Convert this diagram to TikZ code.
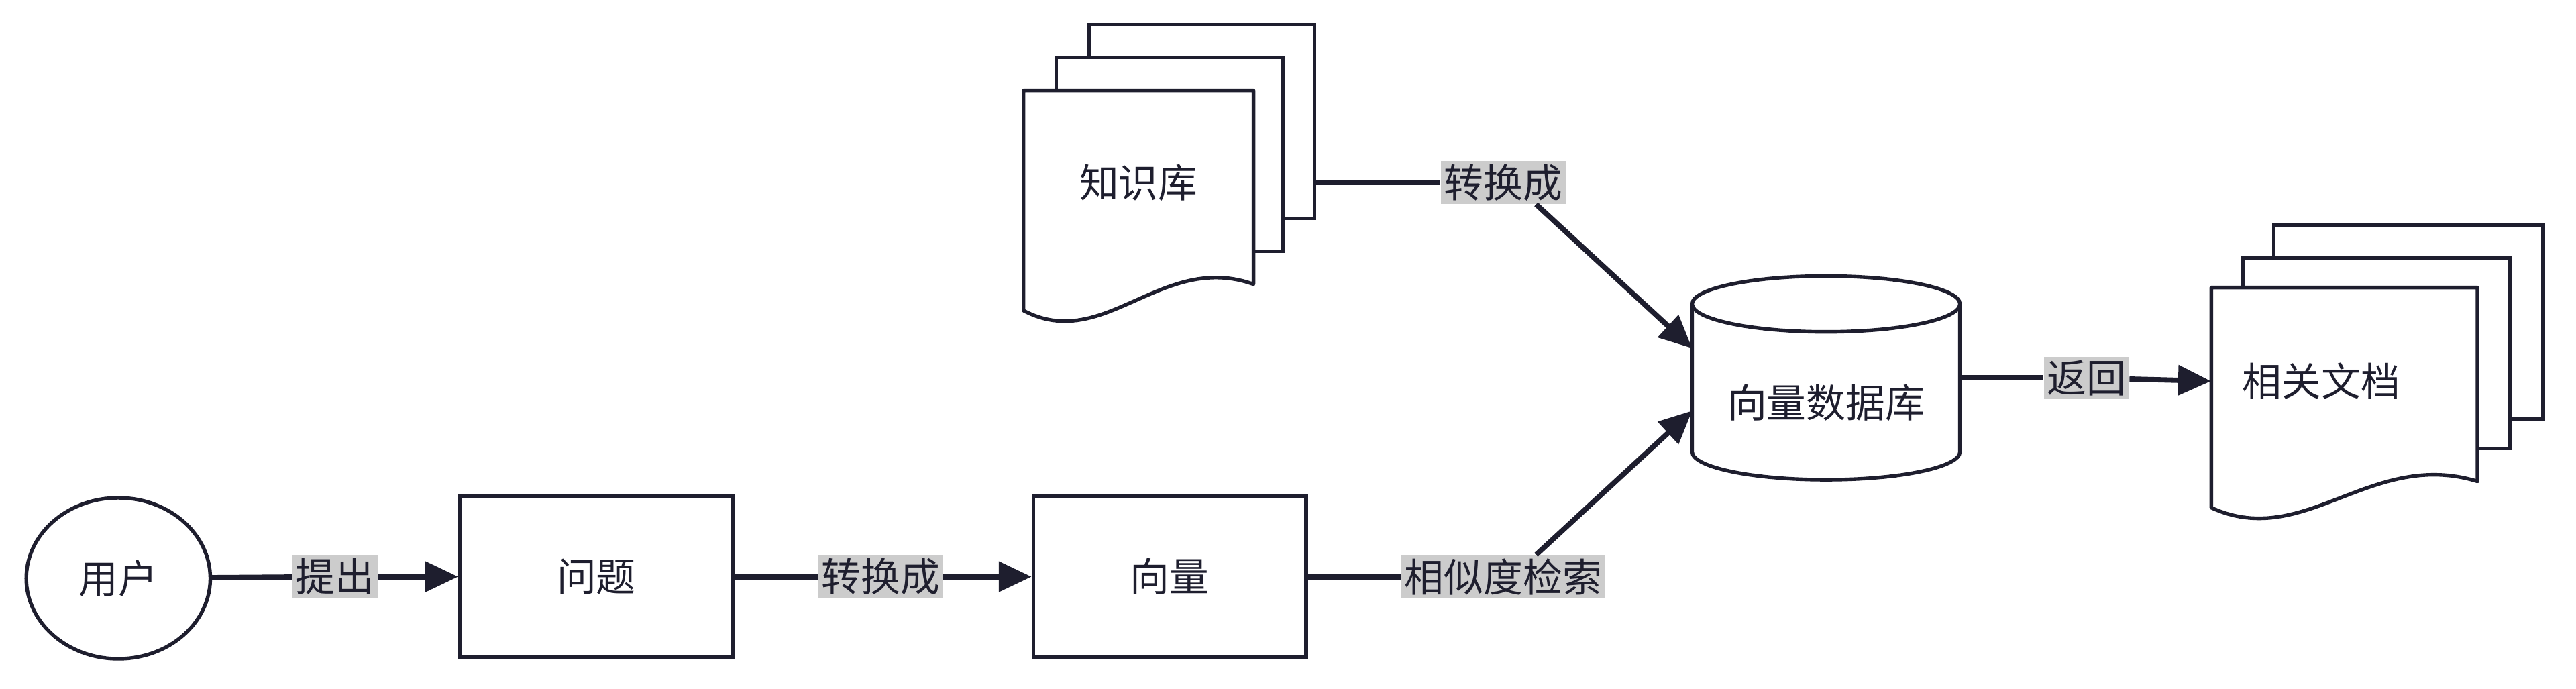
\documentclass[tikz,border=0pt]{standalone}
\usepackage{fontspec}
\newfontfamily\cjk{Noto Sans CJK SC}
\usetikzlibrary{arrows.meta,shapes.geometric}
\definecolor{ink}{HTML}{1E1E2E}
\newcommand{\mypage}[4]{% x1 y1 x2 y2 (y2 = lowest point of wave)
  \draw[line width=2.2pt,ink,fill=white,line join=round] (#1,#2) -- (#3,#2) -- (#3,#4-30)
    .. controls ({#3-0.4*(#3-#1)},#4-50) and ({#1+0.35*(#3-#1)},#4+12) .. (#1,#4-14) -- cycle;}
\newcommand{\backpage}[4]{\draw[line width=2.2pt,ink,fill=white] (#1,#2) rectangle (#3,#4);}
\begin{document}
\begin{tikzpicture}[x=1pt,y=-1pt,
  txt/.style={font=\cjk\fontsize{24}{28}\selectfont,text=ink},
  lab/.style={txt,fill=black!20,inner sep=2pt},
  box/.style={draw=ink,line width=2.2pt,fill=white,minimum width=166pt,minimum height=98pt,txt},
  ghost/.style={inner sep=0pt,draw=none},
  con/.style={line width=3.2pt,ink},
  arr/.style={con,-{Triangle[length=20pt,width=18pt]}}]
\useasboundingbox (0,0) rectangle (1568,419);
% user
\node[ellipse,draw=ink,line width=2.2pt,minimum width=112pt,minimum height=98pt,txt] (u) at (72,352) {用户};
\node[box] (q) at (363,351) {问题};
\node[box] (v) at (712,351) {向量};
% knowledge base
\backpage{663}{15}{800}{133}
\backpage{643}{35}{781}{153}
\mypage{623}{55}{763}{203}
\node[ghost,minimum width=177pt,minimum height=178pt] (kb) at (711.5,111) {};
\node[txt] at (693,111) {知识库};
% related docs
\backpage{1384}{137}{1548}{255}
\backpage{1365}{157}{1528}{273}
\mypage{1346}{175}{1508}{323}
\node[ghost,minimum width=202pt,minimum height=190pt] (rd) at (1447,232) {};
\node[txt] at (1413,232) {相关文档};
% database
\draw[line width=2.2pt,ink,fill=white] (1030,185) -- (1030,275) arc[start angle=180,end angle=0,x radius=81.5,y radius=17] -- (1193,185);
\draw[line width=2.2pt,ink,fill=white] (1111.5,185) ellipse[x radius=81.5,y radius=17];
\node[ghost,minimum width=163pt,minimum height=130pt] (db) at (1111.5,231) {};
\node[txt] at (1111.5,245) {向量数据库};
% labels
\node[lab] (l1) at (204,351) {提出};
\node[lab] (l2) at (536,351) {转换成};
\node[lab] (l3) at (915,351) {相似度检索};
\node[lab] (l4) at (915,111) {转换成};
\node[lab] (l5) at (1270,230) {返回};
\coordinate (a3) at ([xshift=20pt]l3.north);
\coordinate (a4) at ([xshift=20pt]l4.south);
\coordinate (t3) at (1030,250);
\coordinate (t4) at (1030,212);
% connectors
\draw[con] (u) -- (l1); \draw[arr] (l1) -- (q);
\draw[con] (q) -- (l2); \draw[arr] (l2) -- (v);
\draw[con] (v) -- (l3); \draw[arr] (a3) -- (t3);
\draw[con] (kb.east) -- (l4); \draw[arr] (a4) -- (t4);
\draw[con] (db.east |- l5) -- (l5); \draw[arr] (l5) -- (rd.west);
\end{tikzpicture}
\end{document}
